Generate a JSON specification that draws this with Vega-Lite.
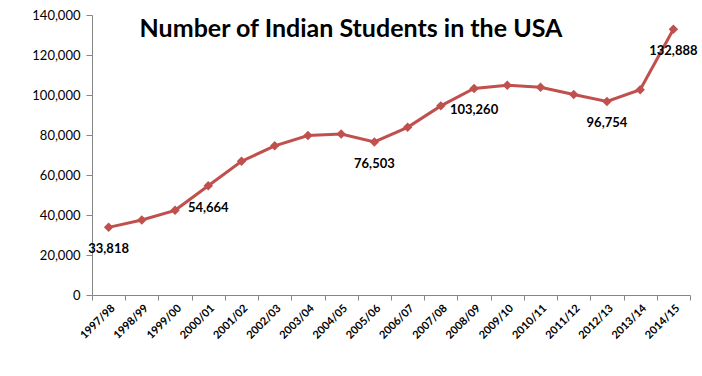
{
  "$schema": "https://vega.github.io/schema/vega-lite/v6.json",
  "width": 598,
  "height": 280,
  "autosize": {"type": "none"},
  "padding": {"left": 92, "top": 15, "right": 12, "bottom": 81},
  "background": "white",
  "title": {
    "text": "Number of Indian Students in the USA",
    "font": "Lato",
    "fontSize": 25,
    "fontWeight": "bold",
    "color": "#000000",
    "anchor": "middle",
    "baseline": "middle",
    "offset": -30,
    "dx": -40,
    "dy": 15
  },
  "config": {
    "view": {"stroke": null},
    "axis": {"grid": false, "domainColor": "#868686", "tickColor": "#868686", "labelColor": "#000000"}
  },
  "data": {
    "values": [
      {"year": "1997/98", "students": 33818, "show": true},
      {"year": "1998/99", "students": 37482, "show": false},
      {"year": "1999/00", "students": 42337, "show": false},
      {"year": "2000/01", "students": 54664, "show": true},
      {"year": "2001/02", "students": 66836, "show": false},
      {"year": "2002/03", "students": 74603, "show": false},
      {"year": "2003/04", "students": 79736, "show": false},
      {"year": "2004/05", "students": 80466, "show": false},
      {"year": "2005/06", "students": 76503, "show": true},
      {"year": "2006/07", "students": 83833, "show": false},
      {"year": "2007/08", "students": 94563, "show": false},
      {"year": "2008/09", "students": 103260, "show": true},
      {"year": "2009/10", "students": 104897, "show": false},
      {"year": "2010/11", "students": 103895, "show": false},
      {"year": "2011/12", "students": 100270, "show": false},
      {"year": "2012/13", "students": 96754, "show": true},
      {"year": "2013/14", "students": 102673, "show": false},
      {"year": "2014/15", "students": 132888, "show": true}
    ]
  },
  "encoding": {
    "x": {
      "field": "year",
      "type": "ordinal",
      "sort": null,
      "scale": {"type": "band", "paddingInner": 0, "paddingOuter": 0},
      "axis": {
        "title": null,
        "tickBand": "extent",
        "labelAngle": -45,
        "labelFont": "Lato",
        "labelFontSize": 11,
        "labelFontWeight": "bold",
        "tickSize": 5,
        "labelPadding": 2
      }
    },
    "y": {
      "field": "students",
      "type": "quantitative",
      "scale": {"domain": [0, 140000], "nice": false},
      "axis": {
        "title": null,
        "values": [0, 20000, 40000, 60000, 80000, 100000, 120000, 140000],
        "format": ",d",
        "labelFont": "Lato",
        "labelFontSize": 13,
        "tickSize": 6,
        "labelPadding": 6
      }
    }
  },
  "layer": [
    {
      "mark": {"type": "line", "color": "#C0504D", "strokeWidth": 3}
    },
    {
      "mark": {"type": "point", "shape": "diamond", "filled": true, "color": "#C0504D", "opacity": 1, "size": 90}
    },
    {
      "transform": [{"filter": "datum.show"}],
      "mark": {"type": "text", "font": "Lato", "fontSize": 13, "fontWeight": "bold", "color": "#000000", "dy": 22},
      "encoding": {
        "text": {"field": "students", "type": "quantitative", "format": ","}
      }
    }
  ]
}
